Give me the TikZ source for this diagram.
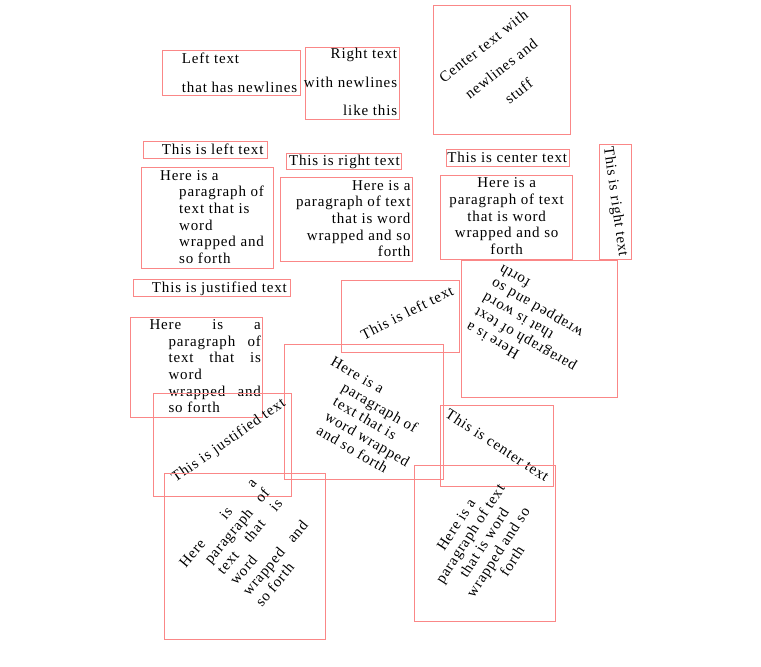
\documentclass[tikz,border=0pt]{standalone}
\usepackage{fontspec}
\setmainfont{Liberation Serif}[LetterSpace=5.7]
\definecolor{boxred}{RGB}{250,135,135}
\tikzset{
  frame/.style={draw=boxred, line width=1pt},
  txt/.style={inner sep=0pt, font=\fontsize{15}{16.7}\selectfont},
  nltxt/.style={inner sep=0pt, font=\fontsize{15}{28.5}\selectfont},
}
\newcommand{\hangsp}{\hspace*{19pt}}
\newcommand{\jl}[2]{\makebox[#1][s]{#2}}

\begin{document}
\begin{tikzpicture}[x=1pt,y=-1pt]
\useasboundingbox (0,0) rectangle (761,667);

% text with newlines (base = last line)
\draw[frame] (162.7,50.7) rectangle (300.3,95.3);
\node[nltxt, align=left, anchor=base west] (leftnl) at (181.7,92.2) {Left text\\that has newlines};
\draw[frame] (305.7,47.3) rectangle (399.3,119.3);
\node[nltxt, align=right, anchor=base east] (rightnl) at (397.3,115.5) {Right text\\with newlines\\like this};
\draw[frame] (433.3,5.3) rectangle (570.7,134.3);
\begin{scope}[shift={(502,69.8)}, rotate=38, transform shape]
\node[nltxt, align=center, anchor=base] (centernl) at (0,32) {Center text with\\newlines and\\stuff};
\end{scope}

% left
\draw[frame] (143.3,141) rectangle (267,158.3);
\node[txt, anchor=base west] (lefttxt) at (161.7,154.3) {This is left text};
\draw[frame] (141.7,167.3) rectangle (273.3,268.3);
\node[txt, align=left, anchor=base west] (leftpar) at (160,263.5)
  {Here is a\\\hangsp paragraph of\\\hangsp text that is\\\hangsp word\\\hangsp wrapped and\\\hangsp so forth};

% right
\draw[frame] (286.7,153.3) rectangle (401.7,169.3);
\node[txt, anchor=base east] (righttxt) at (400,165) {This is right text};
\draw[frame] (280.7,177.7) rectangle (412.7,261.3);
\node[txt, align=right, anchor=base east] (rightpar) at (410.7,256.8)
  {Here is a\\paragraph of text\\that is word\\wrapped and so\\forth};

% center
\draw[frame] (446.7,149.3) rectangle (569.3,166.7);
\node[txt, anchor=base] (centertxt) at (507.2,162.3) {This is center text};
\draw[frame] (440.7,175.7) rectangle (572.7,259);
\node[txt, align=center, anchor=base] (centerpar) at (506.7,254.5)
  {Here is a\\paragraph of text\\that is word\\wrapped and so\\forth};

% justified
\draw[frame] (133.3,279.3) rectangle (290.3,296);
\node[txt, anchor=base west] (justtxt) at (151.7,292) {This is justified text};
\draw[frame] (130.7,317.3) rectangle (262.7,417);
\node[txt, align=left, anchor=base west] (justpar) at (149.3,412.8)
  {\jl{111.4pt}{Here is a}\\\hangsp\jl{92.4pt}{paragraph of}\\\hangsp\jl{92.4pt}{text that is}\\\hangsp word\\\hangsp\jl{92.4pt}{wrapped and}\\\hangsp so forth};

% rotated
\draw[frame] (599,144) rectangle (631.3,259);
\begin{scope}[shift={(615.2,201.5)}, rotate=-82, transform shape]
\node[txt, anchor=base east] (righttxtr) at (55.8,3.7) {This is right text};
\end{scope}

\draw[frame] (341.7,280.7) rectangle (459.3,352.3);
\begin{scope}[shift={(400.5,316.5)}, rotate=27, transform shape]
\node[txt, anchor=base west] (lefttxtr) at (-43.5,4.6) {This is left text};
\end{scope}

\draw[frame] (461.7,260) rectangle (617.3,397);
\begin{scope}[shift={(539.5,328.5)}, rotate=150, transform shape]
\node[txt, align=right, anchor=base east] (rightparr) at (64,37.3)
  {Here is a\\paragraph of text\\that is word\\wrapped and so\\forth};
\end{scope}

\draw[frame] (284,344.7) rectangle (443.3,479.3);
\begin{scope}[shift={(363.7,412)}, rotate=-30, transform shape]
\node[txt, align=left, anchor=base west] (leftparr) at (-53,43)
  {Here is a\\\hspace*{22pt}paragraph of\\\hspace*{22pt}text that is\\\hspace*{22pt}word wrapped\\\hspace*{22pt}and so forth};
\end{scope}

\draw[frame] (153.3,393.3) rectangle (291.3,496.3);
\begin{scope}[shift={(222.3,444.8)}, rotate=35, transform shape]
\node[txt, anchor=base west] (justtxtr) at (-60.1,4.3) {This is justified text};
\end{scope}

\draw[frame] (440.7,405.7) rectangle (553.3,486);
\begin{scope}[shift={(497,445.8)}, rotate=-33, transform shape]
\node[txt, anchor=base] (centertxtr) at (0,4.3) {This is center text};
\end{scope}

\draw[frame] (164.7,473.3) rectangle (325.7,639.7);
\begin{scope}[shift={(245.2,556.5)}, rotate=50, transform shape]
\node[txt, align=left, anchor=base west] (justparr) at (-47.4,45.6)
  {\jl{111.4pt}{Here is a}\\\hangsp\jl{92.4pt}{paragraph of}\\\hangsp\jl{92.4pt}{text that is}\\\hangsp word\\\hangsp\jl{92.4pt}{wrapped and}\\\hangsp so forth};
\end{scope}

\draw[frame] (414.3,465.3) rectangle (555.7,621.7);
\begin{scope}[shift={(485,543.5)}, rotate=57, transform shape]
\node[txt, align=center, anchor=base] (centerparr) at (0,37.2)
  {Here is a\\paragraph of text\\that is word\\wrapped and so\\forth};
\end{scope}

\end{tikzpicture}
\end{document}
